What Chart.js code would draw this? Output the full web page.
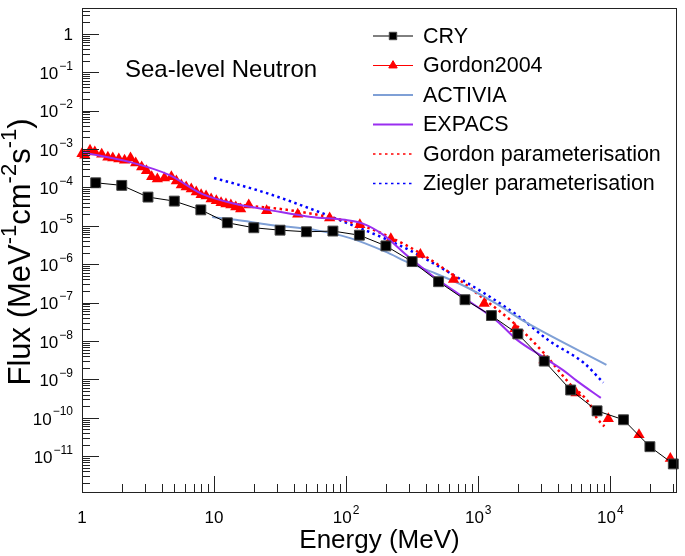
<!DOCTYPE html>
<html>
<head>
<meta charset="utf-8">
<script src="https://cdn.jsdelivr.net/npm/chart.js@4.4.1/dist/chart.umd.min.js"></script>
<style>
  html, body { margin: 0; padding: 0; background: #fff; }
  #wrap { width: 685px; height: 556px; }
</style>
</head>
<body>
<div id="wrap"><canvas id="chart"></canvas></div>
<script>
// Valeurs (MeV, MeV^-1 cm^-2 s^-1)
const cryEnergy = [1.27, 2.0, 3.16, 5.0, 7.94, 12.6, 20, 31.6, 50, 79.4, 126, 200, 316, 501, 794, 1259, 1995, 3162, 5012, 7943, 12589, 19953, 30000];
const cryFlux = [1.32e-4, 1.13e-4, 5.6e-5, 4.4e-5, 2.6e-5, 1.2e-5, 8.9e-6, 7.7e-6, 7.0e-6, 7.3e-6, 5.7e-6, 3.0e-6, 1.17e-6, 3.5e-7, 1.19e-7, 4.6e-8, 1.53e-8, 3.0e-9, 5.3e-10, 1.52e-10, 8.9e-11, 1.77e-11, 6.3e-12];

const gordon2004Energy = [1.0, 1.05, 1.15, 1.25, 1.41, 1.57, 1.71, 1.90, 2.10, 2.33, 2.55, 2.83, 3.08, 3.37, 3.72, 4.21, 4.75, 5.18, 5.65, 6.15, 6.72, 7.33, 7.98, 8.7, 9.5, 10.4, 11.3, 12.3, 13.4, 14.6, 15.9, 18.3, 25, 43, 75, 127, 218, 365, 650, 1110, 1900, 3150, 5500, 9660, 16500, 28500];
const gordon2004Flux = [7.5e-4, 6.9e-4, 9.3e-4, 8.3e-4, 7.3e-4, 6.1e-4, 5.8e-4, 5.5e-4, 5.1e-4, 5.8e-4, 4.3e-4, 3.4e-4, 2.7e-4, 1.9e-4, 1.66e-4, 1.75e-4, 1.9e-4, 1.47e-4, 1.15e-4, 1.02e-4, 9.1e-5, 7.6e-5, 6.4e-5, 6.0e-5, 5.0e-5, 4.5e-5, 4.0e-5, 3.7e-5, 3.5e-5, 3.1e-5, 2.75e-5, 3.5e-5, 2.45e-5, 2.0e-5, 1.6e-5, 1.06e-5, 4.6e-6, 1.8e-6, 4.0e-7, 9.5e-8, 2.1e-8, 3.2e-9, 4.4e-10, 9.4e-11, 3.6e-11, 8.7e-12];

const activiaEnergy = [9.67, 14.6, 26, 61.6, 109, 196, 306, 435, 790, 1390, 2220, 9350];
const activiaFlux = [1.7e-5, 1.43e-5, 1.07e-5, 7.5e-6, 4.7e-6, 2.15e-6, 1.05e-6, 6.5e-7, 2.67e-7, 9.1e-8, 3.3e-8, 2.4e-9];

const expacsEnergy = [1.0, 2.3, 4.6, 8.1, 14.6, 26, 54.5, 98, 134, 190, 294, 435, 790, 1390, 1970, 3150, 4440, 5550, 8480];
const expacsFlux = [8.3e-4, 4.6e-4, 2.1e-4, 6.8e-5, 3.7e-5, 2.6e-5, 1.7e-5, 1.43e-5, 1.14e-5, 5.9e-6, 1.6e-6, 5.5e-7, 1.3e-7, 3.3e-8, 1.07e-8, 3.7e-9, 1.7e-9, 9.3e-10, 3.3e-10];

const gordonParamEnergy = [10, 18.3, 30.8, 54.6, 98, 139, 218, 366, 649, 1110, 1897, 3133, 4920, 6950, 7850, 9020];
const gordonParamFlux = [4.49e-5, 3.33e-5, 2.79e-5, 2.07e-5, 1.36e-5, 9.5e-6, 4.95e-6, 1.91e-6, 5.1e-7, 1.23e-7, 2.77e-8, 4.9e-9, 7.8e-10, 2.36e-10, 1.02e-10, 6.0e-11];

const zieglerEnergy = [10, 14.6, 26, 61.6, 109, 196, 348, 616, 1110, 1960, 3470, 6300, 8860];
const zieglerFlux = [1.75e-4, 1.23e-4, 6.8e-5, 2.33e-5, 1.07e-5, 4.67e-6, 1.8e-6, 5.8e-7, 1.76e-7, 4.74e-8, 1.0e-8, 2.7e-9, 8.2e-10];

const xTicks = [1, 10, 100, 1000, 10000];
const xTickLabels = ['1', '10', '10^2', '10^3', '10^4'];
const yTicks = [1, 1e-1, 1e-2, 1e-3, 1e-4, 1e-5, 1e-6, 1e-7, 1e-8, 1e-9, 1e-10, 1e-11];
const yTickLabels = ['1', '10^\u22121', '10^\u22122', '10^\u22123', '10^\u22124', '10^\u22125', '10^\u22126', '10^\u22127', '10^\u22128', '10^\u22129', '10^\u221210', '10^\u221211'];

const FONT = '"Liberation Sans", Arial, Helvetica, sans-serif';

function pts(xs, ys) {
    return xs.map((x, i) => ({ x: x, y: ys[i] }));
}

// texte avec exposant : "10^-3"
function drawSup(ctx, label, x, y, size, align) {
    const parts = label.split('^');
    const base = parts[0], exp = parts[1] || '';
    const small = Math.round(size * 0.72);
    ctx.font = size + 'px ' + FONT;
    const wb = ctx.measureText(base).width;
    ctx.font = small + 'px ' + FONT;
    const we = exp ? ctx.measureText(exp).width + 1 : 0;
    let x0 = x;
    if (align === 'right') x0 = x - wb - we;
    else if (align === 'center') x0 = x - (wb + we) / 2;
    ctx.textAlign = 'left';
    ctx.textBaseline = 'middle';
    ctx.font = size + 'px ' + FONT;
    ctx.fillText(base, x0, y);
    if (exp) {
        ctx.font = small + 'px ' + FONT;
        ctx.fillText(exp, x0 + wb + 1, y - size * 0.45);
    }
}

const frameAndLabels = {
    id: 'frameAndLabels',
    afterDraw(chart) {
        const ctx = chart.ctx;
        const a = chart.chartArea;
        const xs = chart.scales.x, ys = chart.scales.y;
        ctx.save();
        ctx.strokeStyle = '#222';
        ctx.lineWidth = 1;
        ctx.strokeRect(a.left + 0.5, a.top + 0.5, a.right - a.left - 1, a.bottom - a.top);

        // graduations vers l'intérieur
        ctx.beginPath();
        for (let d = -12; d <= 0; d++) {
            for (let m = 1; m <= 9; m++) {
                const v = m * Math.pow(10, d);
                if (v < ys.min || v > ys.max) continue;
                const p = Math.round(ys.getPixelForValue(v)) + 0.5;
                ctx.moveTo(a.left, p);
                ctx.lineTo(a.left + (m === 1 ? 17 : 8), p);
            }
        }
        for (let d = 0; d <= 4; d++) {
            for (let m = 1; m <= 9; m++) {
                const v = m * Math.pow(10, d);
                if (v < xs.min || v > xs.max) continue;
                const p = Math.round(xs.getPixelForValue(v)) + 0.5;
                ctx.moveTo(p, a.bottom);
                ctx.lineTo(p, a.bottom - (m === 1 ? 16 : 8));
            }
        }
        ctx.stroke();

        ctx.fillStyle = '#000';
        yTicks.forEach((v, i) => {
            drawSup(ctx, yTickLabels[i], 73, ys.getPixelForValue(v) + 2, 17, 'right');
        });
        xTicks.forEach((v, i) => {
            drawSup(ctx, xTickLabels[i], xs.getPixelForValue(v), 518, 17, 'center');
        });

        // titres des axes
        ctx.font = '26px ' + FONT;
        ctx.textAlign = 'center';
        ctx.textBaseline = 'middle';
        ctx.fillText('Energy (MeV)', (a.left + a.right) / 2, 541);

        ctx.save();
        ctx.translate(21, (a.top + a.bottom) / 2 + 2);
        ctx.rotate(-Math.PI / 2);
        const segs = [['Flux (MeV', 0], ['-1', 1], ['cm', 0], ['-2', 1], ['s', 0], ['-1', 1], [')', 0]];
        let total = 0;
        segs.forEach(s => {
            ctx.font = (s[1] ? 22 : 31) + 'px ' + FONT;
            total += ctx.measureText(s[0]).width;
        });
        let cx = -total / 2;
        ctx.textAlign = 'left';
        segs.forEach(s => {
            ctx.font = (s[1] ? 22 : 31) + 'px ' + FONT;
            ctx.fillText(s[0], cx, s[1] ? -11 : 0);
            cx += ctx.measureText(s[0]).width;
        });
        ctx.restore();

        ctx.font = '24px ' + FONT;
        ctx.textAlign = 'left';
        ctx.fillText('Sea-level Neutron', 125, 70);

        // légende
        chart.data.datasets.forEach((ds, i) => {
            const y = 36 + i * 29.5;
            ctx.save();
            ctx.strokeStyle = ds.borderColor;
            ctx.lineWidth = ds.legendWidth || ds.borderWidth;
            ctx.setLineDash(ds.borderDash || []);
            ctx.beginPath();
            ctx.moveTo(373, y);
            ctx.lineTo(413, y);
            ctx.stroke();
            ctx.restore();
            if (ds.pointRadius > 0) {
                ctx.fillStyle = ds.pointBackgroundColor;
                ctx.strokeStyle = ds.pointBorderColor;
                ctx.lineWidth = 1;
                Chart.helpers.drawPoint(ctx, { pointStyle: ds.pointStyle, radius: ds.pointRadius * 0.75, borderWidth: 1 }, 393, y);
            }
            ctx.fillStyle = '#000';
            ctx.font = '21.5px ' + FONT;
            ctx.textAlign = 'left';
            ctx.textBaseline = 'middle';
            ctx.fillText(ds.label, 423, y + 1);
        });
        ctx.restore();
    }
};

new Chart(document.getElementById('chart'), {
    type: 'line',
    data: {
        datasets: [
            {
                label: 'CRY',
                data: pts(cryEnergy, cryFlux),
                order: 0,
                borderColor: '#000', borderWidth: 1,
                pointStyle: 'rect', pointRadius: 7,
                pointBackgroundColor: '#000', pointBorderColor: '#444', pointBorderWidth: 1,
                clip: false
            },
            {
                label: 'Gordon2004',
                data: pts(gordon2004Energy, gordon2004Flux),
                order: 2,
                showLine: false,
                borderColor: '#ff0000', borderWidth: 1,
                pointStyle: 'triangle', pointRadius: 6.5,
                pointBackgroundColor: '#ff0000', pointBorderColor: '#ff0000', pointBorderWidth: 0,
                clip: false
            },
            {
                label: 'ACTIVIA',
                data: pts(activiaEnergy, activiaFlux),
                order: 3,
                borderColor: '#7fa0d6', borderWidth: 2, pointRadius: 0,
                cubicInterpolationMode: 'monotone'
            },
            {
                label: 'EXPACS',
                data: pts(expacsEnergy, expacsFlux),
                order: 1,
                borderColor: '#9a2ef0', borderWidth: 2, pointRadius: 0,
                cubicInterpolationMode: 'monotone'
            },
            {
                label: 'Gordon parameterisation',
                data: pts(gordonParamEnergy, gordonParamFlux),
                order: 3,
                borderColor: '#ff0000', borderWidth: 2.5, borderDash: [2.5, 3.5], legendWidth: 1.5,
                pointRadius: 0, cubicInterpolationMode: 'monotone'
            },
            {
                label: 'Ziegler parameterisation',
                data: pts(zieglerEnergy, zieglerFlux),
                order: 3,
                borderColor: '#0000ff', borderWidth: 2.5, borderDash: [2.5, 3.5], legendWidth: 1.5,
                pointRadius: 0, cubicInterpolationMode: 'monotone'
            }
        ]
    },
    options: {
        responsive: true,
        maintainAspectRatio: false,
        animation: false,
        layout: { padding: { top: 5, right: 3, left: 0, bottom: 0 } },
        plugins: { legend: { display: false }, tooltip: { enabled: false } },
        scales: {
            x: {
                type: 'logarithmic', min: 1, max: 32000,
                grid: { display: false }, border: { display: false },
                ticks: { display: false },
                afterBuildTicks: s => { s.ticks = xTicks.map(v => ({ value: v })); },
                afterFit: s => { s.height = 64; }
            },
            y: {
                type: 'logarithmic', min: 1.17e-12, max: 4.7,
                grid: { display: false }, border: { display: false },
                ticks: { display: false },
                afterBuildTicks: s => { s.ticks = yTicks.map(v => ({ value: v })); },
                afterFit: s => { s.width = 82; }
            }
        }
    },
    plugins: [frameAndLabels]
});
</script>
</body>
</html>
